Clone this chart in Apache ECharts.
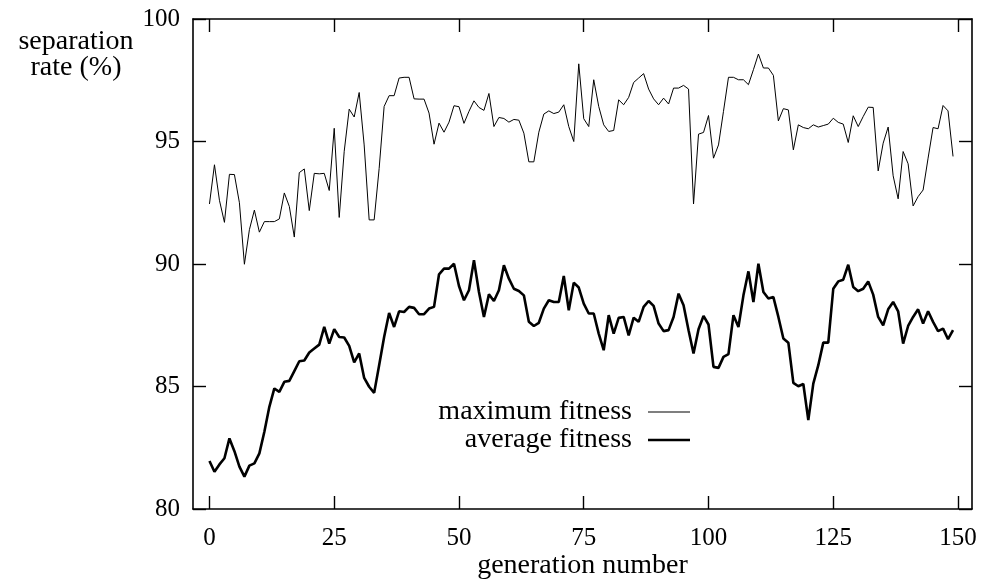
<!DOCTYPE html>
<html>
<head>
<meta charset="utf-8">
<script src="https://cdn.jsdelivr.net/npm/echarts@6/dist/echarts.min.js"></script>
<style>
html,body{margin:0;padding:0;background:#fff;}
#chart{width:982px;height:581px;}
</style>
</head>
<body>
<div id="chart"></div>
<script>
const generations = [0,1,2,3,4,5,6,7,8,9,10,11,12,13,14,15,16,17,18,19,20,21,22,23,24,25,26,27,28,29,30,31,32,33,34,35,36,37,38,39,40,41,42,43,44,45,46,47,48,49,50,51,52,53,54,55,56,57,58,59,60,61,62,63,64,65,66,67,68,69,70,71,72,73,74,75,76,77,78,79,80,81,82,83,84,85,86,87,88,89,90,91,92,93,94,95,96,97,98,99,100,101,102,103,104,105,106,107,108,109,110,111,112,113,114,115,116,117,118,119,120,121,122,123,124,125,126,127,128,129,130,131,132,133,134,135,136,137,138,139,140,141,142,143,144,145,146,147,148,149];

const maximumFitness = [
92.45,94.05,92.6,91.7,93.66,93.65,92.5,89.99,91.4,92.2,
91.3,91.73,91.73,91.73,91.84,92.9,92.35,91.1,93.73,93.88,
92.18,93.7,93.68,93.7,93.0,95.54,91.9,94.6,96.32,96.0,
97.0,94.86,91.8,91.8,93.9,96.43,96.87,96.87,97.59,97.62,
97.62,96.74,96.73,96.73,96.16,94.89,95.75,95.38,95.79,96.46,
96.42,95.74,96.23,96.66,96.39,96.27,96.96,95.61,95.98,95.94,
95.79,95.9,95.87,95.34,94.17,94.17,95.38,96.12,96.25,96.14,
96.2,96.5,95.61,95.0,98.17,95.93,95.61,97.52,96.43,95.68,
95.41,95.45,96.7,96.5,96.8,97.41,97.59,97.77,97.14,96.74,
96.5,96.77,96.53,97.18,97.18,97.29,97.14,92.45,95.3,95.37,
96.06,94.32,94.86,96.23,97.62,97.62,97.52,97.52,97.32,97.93,
98.57,98.0,98.0,97.7,95.84,96.34,96.29,94.66,95.68,95.57,
95.52,95.68,95.59,95.65,95.71,95.95,95.78,95.71,94.96,96.05,
95.61,96.02,96.4,96.39,93.8,94.93,95.59,93.6,92.66,94.59,
94.09,92.37,92.75,93.02,94.32,95.57,95.52,96.47,96.25,94.39
];

const averageFitness = [
81.96,81.52,81.82,82.07,82.88,82.36,81.73,81.32,81.77,81.86,
82.27,83.15,84.17,84.92,84.78,85.19,85.23,85.63,86.03,86.06,
86.39,86.55,86.71,87.43,86.75,87.34,87.02,87.0,86.66,85.98,
86.35,85.35,84.99,84.74,85.87,87.02,88.0,87.43,88.07,88.04,
88.25,88.21,87.95,87.95,88.18,88.25,89.58,89.81,89.81,90.01,
89.1,88.52,88.93,90.15,88.86,87.84,88.76,88.49,88.93,89.95,
89.4,88.99,88.9,88.72,87.64,87.47,87.6,88.18,88.52,88.45,
88.45,89.51,88.11,89.24,89.04,88.38,87.98,87.98,87.16,86.48,
87.91,87.16,87.8,87.84,87.09,87.81,87.64,88.25,88.49,88.29,
87.57,87.26,87.3,87.84,88.79,88.32,87.3,86.35,87.34,87.88,
87.53,85.8,85.76,86.21,86.32,87.91,87.43,88.72,89.7,88.45,
90.01,88.86,88.59,88.65,87.84,86.96,86.79,85.15,85.01,85.1,
83.63,85.12,85.87,86.79,86.79,88.99,89.29,89.36,89.97,89.06,
88.89,88.99,89.29,88.75,87.84,87.5,88.15,88.45,88.07,86.75,
87.47,87.84,88.15,87.57,88.07,87.64,87.26,87.36,86.93,87.3
];

const xTickValues = [0,25,50,75,100,125,150];
const yTickValues = [80,85,90,95,100];
const seriesNames = ['maximum fitness','average fitness'];
const xAxisTitle = 'generation number';
const yAxisTitle = 'separation\nrate (%)';

const FONT = 'Liberation Serif';
const axisLineStyle = {show:true, onZero:false, lineStyle:{color:'#000', width:1.6}};

const chart = echarts.init(document.getElementById('chart'), null, {renderer:'canvas'});

function pairs(vals){ return generations.map((g,i)=>[g, vals[i]]); }

const legendText = {fontFamily:FONT, fontSize:28, color:'#000', padding:[0,11,0,0]};

const option = {
  backgroundColor:'#fff',
  animation:false,
  title:{
    text: yAxisTitle,
    left: 71, top: 24, textAlign:'center',
    textStyle:{fontFamily:FONT, fontSize:28, fontWeight:'normal', color:'#000', lineHeight:26}
  },
  grid:{left:193, right:10, top:19, bottom:72, containLabel:false, outerBoundsMode:'none'},
  legend:[
    {data:[seriesNames[0]], right:287, top:393, orient:'vertical', align:'right',
     icon:'rect', itemWidth:42, itemHeight:1, selectedMode:false,
     itemStyle:{color:'#000'}, textStyle:legendText},
    {data:[seriesNames[1]], right:287, top:421, orient:'vertical', align:'right',
     icon:'rect', itemWidth:42, itemHeight:2.6, selectedMode:false,
     itemStyle:{color:'#000'}, textStyle:legendText}
  ],
  xAxis:[
    {type:'value', position:'bottom', min:-3.3, max:152.8,
     name: xAxisTitle, nameLocation:'middle', nameGap:43, nameMoveOverlap:false,
     nameTextStyle:{fontFamily:FONT, fontSize:28, color:'#000'},
     axisLine:axisLineStyle,
     axisTick:{show:true, inside:true, length:13, customValues:xTickValues, lineStyle:{color:'#000', width:1.4}},
     axisLabel:{show:true, customValues:xTickValues, margin:17, fontFamily:FONT, fontSize:25, color:'#000'},
     splitLine:{show:false}},
    {type:'value', position:'top', min:-3.3, max:152.8,
     axisLine:axisLineStyle,
     axisTick:{show:true, inside:true, length:13, customValues:xTickValues, lineStyle:{color:'#000', width:1.4}},
     axisLabel:{show:false},
     splitLine:{show:false}}
  ],
  yAxis:[
    {type:'value', position:'left', min:80, max:100, interval:5,
     axisLine:axisLineStyle,
     axisTick:{show:true, inside:true, length:13, lineStyle:{color:'#000', width:1.4}},
     axisLabel:{show:true, margin:13, fontFamily:FONT, fontSize:25, color:'#000',
       customValues:yTickValues},
     splitLine:{show:false}},
    {type:'value', position:'right', min:80, max:100, interval:5,
     axisLine:axisLineStyle,
     axisTick:{show:true, inside:true, length:13, lineStyle:{color:'#000', width:1.4}},
     axisLabel:{show:false},
     splitLine:{show:false}}
  ],
  series:[
    {name:seriesNames[0], type:'line', xAxisIndex:0, yAxisIndex:0, data:pairs(maximumFitness),
     symbol:'none', showSymbol:false, lineStyle:{color:'#000', width:1}, itemStyle:{color:'#000'}},
    {name:seriesNames[1], type:'line', xAxisIndex:0, yAxisIndex:0, data:pairs(averageFitness),
     symbol:'none', showSymbol:false, lineStyle:{color:'#000', width:2.6}, itemStyle:{color:'#000'}}
  ]
};
chart.setOption(option);
</script>
</body>
</html>
